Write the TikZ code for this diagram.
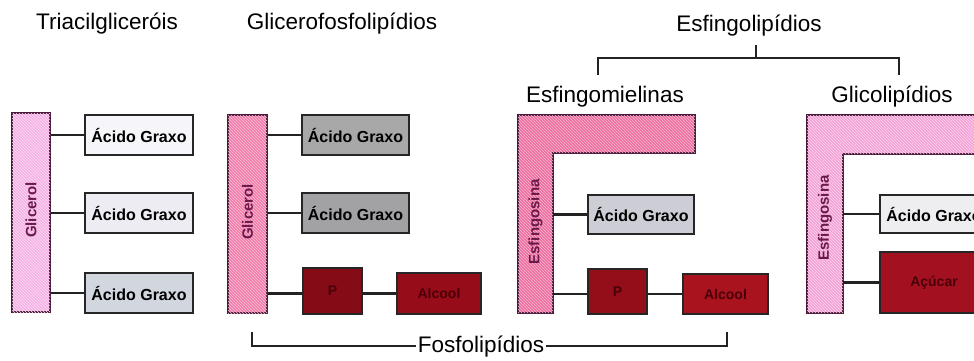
\documentclass[tikz,border=0pt]{standalone}
\usepackage{fontspec}
\setmainfont{Liberation Sans}
\usetikzlibrary{patterns}
\definecolor{pinkA}{HTML}{F5B2E6}
\definecolor{pinkB}{HTML}{F27BAA}
\definecolor{pinkC}{HTML}{EE6C9E}
\definecolor{pinkD}{HTML}{F4A2D8}
\definecolor{bardark}{HTML}{4A1838}
\definecolor{purptext}{HTML}{6A1A4A}
\definecolor{boxdark}{HTML}{262626}
\definecolor{linedark}{HTML}{222222}
\definecolor{agA}{HTML}{F6F6FA}
\definecolor{agB}{HTML}{ECECF2}
\definecolor{agC}{HTML}{D2D6DE}
\definecolor{agD}{HTML}{A8A8A8}
\definecolor{agE}{HTML}{A2A2A4}
\definecolor{agF}{HTML}{CDCDD5}
\definecolor{agG}{HTML}{EEEEF0}
\definecolor{rA}{HTML}{850B16}
\definecolor{rB}{HTML}{960D19}
\definecolor{rC}{HTML}{940E19}
\definecolor{rD}{HTML}{A8131E}
\definecolor{rE}{HTML}{A31120}
\definecolor{redtext}{HTML}{4A0008}
\begin{document}
\begin{tikzpicture}[x=1pt,y=-1pt,
  title/.style={font=\fontsize{22.5}{26}\selectfont, inner sep=2pt, anchor=base},
  ag/.style={draw=boxdark, line width=2, fill=#1, font=\bfseries\fontsize{16}{18}\selectfont, inner sep=0, minimum width=107, minimum height=40},
  redbox/.style={draw=boxdark, line width=2, fill=#1, text=redtext, font=\bfseries\fontsize{14}{16}\selectfont, inner sep=0},
  bar/.style={draw=bardark, line width=2, fill=#1, postaction={pattern=north west lines, pattern color=white!55!#1}},
  vlab/.style={rotate=90, text=purptext, font=\bfseries\fontsize{15}{17}\selectfont, inner sep=0},
  conn/.style={line width=2.4, draw=linedark}]
\useasboundingbox (0,0) rectangle (974,361);
\clip (0,0) rectangle (974,361);
\fill[white] (0,0) rectangle (974,361);

% titles
\node[title] (t1) at (107,30) {Triacilgliceróis};
\node[title] (t2) at (342,30) {Glicerofosfolipídios};
\node[title] (t3) at (749,32) {Esfingolipídios};
\node[title] (t4) at (605,102) {Esfingomielinas};
\node[title] (t5) at (892,102) {Glicolipídios};
\node[title] (t6) at (481,352) {Fosfolipídios};

% Esfingolipidios bracket
\coordinate (bs) at (756,45);
\coordinate (btop) at (756,58);
\coordinate (bl) at (598,75);
\coordinate (br) at (899,75);
\draw[conn] (bl) |- (btop) -| (br);
\draw[conn] (bs) -- (btop);

% Fosfolipidios bracket
\coordinate (fl) at (252,332);
\coordinate (fr) at (727,332);
\draw[conn] (fl) |- (t6.west);
\draw[conn] (t6.east) -| (fr);

% Triacilglicerois
\node[bar=pinkA, minimum width=38, minimum height=199, inner sep=0] (g1) at (31,212.5) {};
\node[vlab] at (31,210) {Glicerol};
\node[ag=agA, minimum width=108] (a11) at (139,135) {Ácido Graxo};
\node[ag=agB, minimum width=108] (a12) at (139,213) {Ácido Graxo};
\node[ag=agC, minimum width=108] (a13) at (139,293) {Ácido Graxo};
\draw[conn] (g1.east |- a11.west) -- (a11.west);
\draw[conn] (g1.east |- a12.west) -- (a12.west);
\draw[conn] (g1.east |- a13.west) -- (a13.west);

% Glicerofosfolipidios
\node[bar=pinkB, minimum width=39, minimum height=198, inner sep=0] (g2) at (247.5,214) {};
\node[vlab] at (247.5,212) {Glicerol};
\node[ag=agD] (a21) at (355.5,135) {Ácido Graxo};
\node[ag=agE] (a22) at (355.5,213) {Ácido Graxo};
\node[redbox=rA, minimum width=59, minimum height=46] (p2) at (332.5,291) {P};
\node[redbox=rB, minimum width=84, minimum height=41] (al2) at (439,293.5) {Alcool};
\draw[conn] (g2.east |- a21.west) -- (a21.west);
\draw[conn] (g2.east |- a22.west) -- (a22.west);
\draw[conn] (g2.east |- al2.west) -- (p2.west |- al2.west);
\draw[conn] (p2.east |- al2.west) -- (al2.west);

% Esfingomielinas
\draw[bar=pinkC] (518,115) -- (695,115) -- (695,153) -- (553,153) -- (553,313) -- (518,313) -- cycle;
\node[inner sep=0, minimum width=35, minimum height=198] (e1) at (535.5,214) {};
\node[vlab] at (535.5,222) {Esfingosina};
\node[ag=agF, minimum width=106, minimum height=39] (a31) at (641,214.5) {Ácido Graxo};
\node[redbox=rC, minimum width=59, minimum height=45] (p3) at (617.5,291.5) {P};
\node[redbox=rD, minimum width=85, minimum height=40] (al3) at (725.5,294) {Alcool};
\draw[conn] (e1.east |- a31.west) -- (a31.west);
\draw[conn] (e1.east |- al3.west) -- (p3.west |- al3.west);
\draw[conn] (p3.east |- al3.west) -- (al3.west);

% Glicolipidios
\draw[bar=pinkD] (807,115) -- (1000,115) -- (1000,154) -- (843,154) -- (843,313) -- (807,313) -- cycle;
\node[inner sep=0, minimum width=36, minimum height=198] (e2) at (825,214) {};
\node[vlab] at (825,218) {Esfingosina};
\node[ag=agG, minimum width=108, minimum height=38] (a41) at (934,214) {Ácido Graxo};
\node[redbox=rE, minimum width=108, minimum height=61] (ac4) at (934,282.5) {Açúcar};
\draw[conn] (e2.east |- a41.west) -- (a41.west);
\draw[conn] (e2.east |- ac4.west) -- (ac4.west);
\end{tikzpicture}
\end{document}
